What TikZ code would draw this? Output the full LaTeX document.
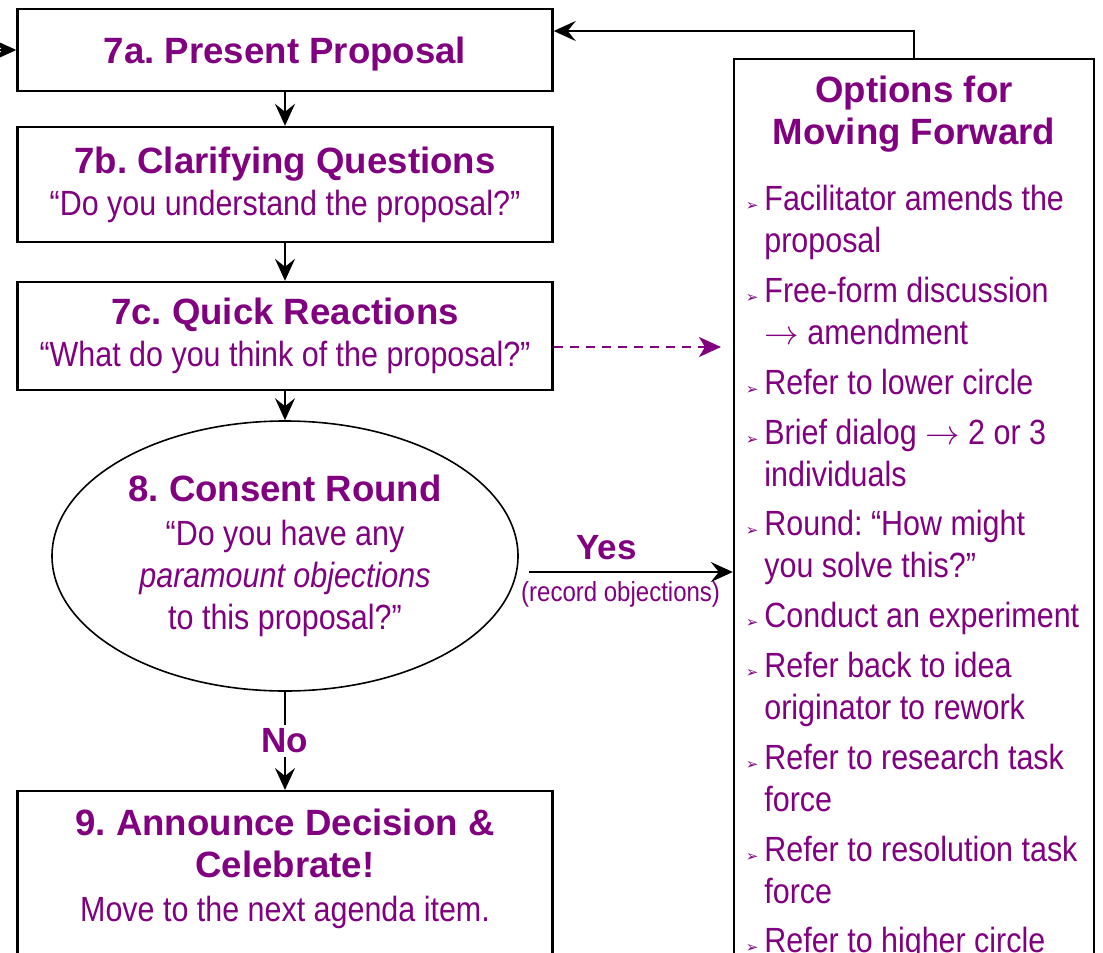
\documentclass[tikz,border=0pt]{standalone}
\usepackage{fontspec}
\setmainfont{Liberation Sans}
\newfontfamily\narrowfont[FakeStretch=0.87]{Liberation Sans}
\newfontfamily\bulletfont{DejaVu Sans}
\usetikzlibrary{arrows.meta,positioning,shapes.geometric,calc}
\definecolor{plum}{HTML}{800080}
\newcommand{\hd}{\normalfont\bfseries\fontsize{18.3}{21}\selectfont}
\newcommand{\bd}{\narrowfont\mdseries\fontsize{17.5}{21}\selectfont}
\newcommand{\yn}{\normalfont\bfseries\fontsize{17.5}{20}\selectfont}
\newcommand{\itm}{\llap{\bulletfont\fontsize{7.5}{7.5}\selectfont\textcolor{plum}{➢}\hspace{3pt}}}
\tikzset{
  stepbox/.style={draw, line width=1.2pt, minimum width=267.5pt, inner sep=0pt, align=center, text=plum, font=\bd},
  arr/.style={line width=1pt, -{Stealth[length=11pt, width=10pt, inset=4pt]}},
  dasharr/.style={draw=plum, line width=1pt, dash pattern=on 4.5pt off 3.5pt, -{Stealth[length=11pt, width=10pt, inset=3pt, fill=plum]}},
}

\begin{document}
\frenchspacing
\begin{tikzpicture}[x=0.5pt, y=-0.5pt]
\useasboundingbox (0,0) rectangle (1103,953);
\clip (0,0) rectangle (1103,953);
% left column
\node[stepbox, minimum height=41pt, text depth=0pt] (present) at (285,50) {\hd 7a. Present Proposal};
\node[stepbox, minimum height=57.5pt] (clarify) at (285,184.5) {\hd 7b. Clarifying Questions\\ “Do you understand the proposal?”};
\node[stepbox, minimum height=54pt] (quick) at (285,336) {\hd 7c. Quick Reactions\\ “What do you think of the proposal?”};
\node[draw, ellipse, line width=0.8pt, minimum width=233pt, minimum height=135pt, inner sep=0pt, align=center, text=plum, font=\bd] (consent) at (285,556) {\hd 8. Consent Round\\[1pt] “Do you have any\\ \itshape paramount objections\\ to this proposal?”};
\node[stepbox, minimum height=150pt, anchor=north] (announce) at (285,790) {};
\node[text=plum, align=center, font=\bd] (announcetext) at (285,869) {\hd 9. Announce Decision \&\\ \hd Celebrate!\\[1pt] Move to the next agenda item.};
% right column
\node[draw, line width=1.2pt, minimum width=180pt, minimum height=500pt, anchor=north, inner sep=0pt] (options) at (914,58) {};
\node[text=plum, align=center, font=\hd] (optitle) at (914,114) {Options for\\ Moving Forward};
\node[text=plum, align=left, anchor=north west, inner sep=0pt, font=\bd] (oplist) at (764,185) {%
  \itm Facilitator amends the\\ proposal\\[3.9pt]
  \itm Free-form discussion\\ $\rightarrow$ amendment\\[3.9pt]
  \itm Refer to lower circle\\[3.9pt]
  \itm Brief dialog $\rightarrow$ 2 or 3\\ individuals\\[3.9pt]
  \itm Round: “How might\\ you solve this?”\\[3.9pt]
  \itm Conduct an experiment\\[3.9pt]
  \itm Refer back to idea\\ originator to rework\\[3.9pt]
  \itm Refer to research task\\ force\\[3.9pt]
  \itm Refer to resolution task\\ force\\[3.9pt]
  \itm Refer to higher circle};
% connectors
\coordinate (dashend) at (721,347);
\coordinate (yesy) at (0,572);
\draw[arr] ([xshift=-20pt]present.west) -- (present.west);
\draw[arr] (present) -- (clarify);
\draw[arr] (clarify) -- (quick);
\draw[arr] (quick) -- (consent);
\draw[arr] (consent) -- node[fill=white, inner sep=2pt, text=plum] (no) {\yn No} (announce);
\draw[dasharr] (quick.east |- dashend) -- (dashend);
\draw[arr] ([xshift=5pt]consent.east |- yesy) -- (options.west |- yesy)
  node[pos=0.38, above=2pt, text=plum] (yes) {\yn Yes}
  node[pos=0.45, below=1pt, text=plum] (record) {\narrowfont\fontsize{13.8}{15}\selectfont (record objections)};
\draw[arr] (options.north) |- ([yshift=9.5pt]present.east);
\end{tikzpicture}
\end{document}
